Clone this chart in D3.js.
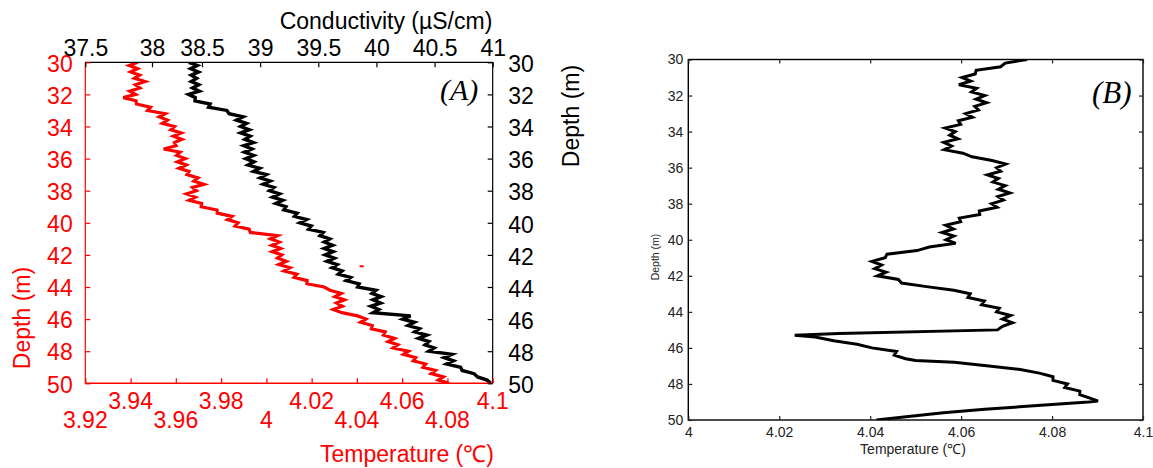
<!DOCTYPE html>
<html><head><meta charset="utf-8">
<script src="https://cdn.jsdelivr.net/npm/d3@7"></script>
<style>body{margin:0;background:#fff}svg{display:block}</style>
</head><body>
<svg id="c" width="1153" height="468"></svg>
<script>
// ---------- DATA ----------
const depthTicks = [30,32,34,36,38,40,42,44,46,48,50];
const condTicks = [37.5,38,38.5,39,39.5,40,40.5,41];
const condTickLabels = ["37.5","38","38.5","39","39.5","40","40.5","41"];
const tempTicksA = [3.92,3.94,3.96,3.98,4.0,4.02,4.04,4.06,4.08,4.1];
const tempLabelsUpper = [3.94,3.98,4.02,4.06,4.1];
const tempLabelsLower = [3.92,3.96,4.0,4.04,4.08];
const tempTicksB = [4.0,4.02,4.04,4.06,4.08,4.1];

const depthA = [30,30.2,30.4,30.6,30.8,31,31.2,31.4,31.6,31.8,
 32,32.2,32.4,32.6,32.8,33,33.2,33.4,33.6,33.8,
 34,34.2,34.4,34.6,34.8,35,35.2,35.4,35.6,35.8,
 36,36.2,36.4,36.6,36.8,37,37.2,37.4,37.6,37.8,
 38,38.2,38.4,38.6,38.8,39,39.2,39.4,39.6,39.8,
 40,40.2,40.4,40.6,40.8,41,41.2,41.4,41.6,41.8,
 42,42.2,42.4,42.6,42.8,43,43.2,43.4,43.6,43.8,
 44,44.2,44.4,44.6,44.8,45,45.2,45.4,45.6,45.8,
 46,46.2,46.4,46.6,46.8,47,47.2,47.4,47.6,47.8,
 48,48.2,48.4,48.6,48.8,49,49.2,49.4,49.6,49.8,
 50];
const tempA = [3.9432,3.9394,3.9431,3.9400,3.9440,3.9417,3.9464,3.9421,3.9441,3.9396,
 3.9422,3.9368,3.9424,3.9426,3.9488,3.9475,3.9553,3.9526,3.9563,3.9540,
 3.9594,3.9578,3.9624,3.9589,3.9627,3.9594,3.9601,3.9546,3.9619,3.9603,
 3.9642,3.9607,3.9646,3.9614,3.9658,3.9649,3.9698,3.9680,3.9724,3.9674,
 3.9691,3.9647,3.9686,3.9658,3.9714,3.9712,3.9782,3.9783,3.9848,3.9828,
 3.9875,3.9862,3.9924,3.9929,4.0049,4.0018,4.0057,4.0024,4.0063,4.0026,
 4.0068,4.0049,4.0088,4.0055,4.0104,4.0078,4.0135,4.0122,4.0180,4.0179,
 4.0255,4.0281,4.0331,4.0303,4.0345,4.0310,4.0336,4.0296,4.0334,4.0403,
 4.0440,4.0416,4.0468,4.0464,4.0525,4.0517,4.0566,4.0538,4.0581,4.0560,
 4.0628,4.0606,4.0660,4.0649,4.0704,4.0692,4.0747,4.0728,4.0782,4.0760,
 4.0807];
const condA = [38.368,38.453,38.387,38.465,38.392,38.447,38.392,38.468,38.406,38.474,
 38.366,38.433,38.430,38.570,38.556,38.714,38.733,38.853,38.797,38.883,
 38.832,38.907,38.833,38.914,38.868,38.942,38.859,38.928,38.865,38.944,
 38.877,38.948,38.896,38.996,38.943,39.053,38.999,39.087,39.026,39.118,
 39.080,39.166,39.107,39.195,39.135,39.222,39.204,39.319,39.295,39.399,
 39.342,39.440,39.416,39.542,39.515,39.599,39.551,39.623,39.551,39.628,
 39.560,39.638,39.575,39.662,39.618,39.705,39.672,39.778,39.739,39.852,
 39.838,39.996,39.961,40.040,39.971,40.036,39.952,40.020,39.971,40.294,
 40.226,40.327,40.272,40.370,40.329,40.433,40.362,40.451,40.418,40.496,
 40.451,40.648,40.582,40.662,40.604,40.724,40.737,40.840,40.870,40.952,
 40.985];
const strayDepthA = [42.71];
const strayTempA = [4.0421];

const depthB = [30,30.2,30.4,30.6,30.8,31,31.2,31.4,31.6,31.8,
 32,32.2,32.4,32.6,32.8,33,33.2,33.4,33.6,33.8,
 34,34.2,34.4,34.6,34.8,35,35.2,35.4,35.6,35.8,
 36,36.2,36.4,36.6,36.8,37,37.2,37.4,37.6,37.8,
 38,38.2,38.4,38.6,38.8,39,39.2,39.4,39.6,39.8,
 40,40.2,40.4,40.6,40.8,41,41.2,41.4,41.6,41.8,
 42,42.2,42.4,42.6,42.8,43,43.2,43.4,43.6,43.8,
 44,44.2,44.4,44.6,44.8,45,
 45.2,45.3,45.4,45.6,45.8,46,46.2,46.4,46.6,46.7,
 46.8,47,47.2,47.4,47.6,47.8,48,48.2,48.4,48.6,
 48.8,48.95,49,49.2,49.4,49.6,49.8,50];
const tempB = [4.0745,4.0697,4.0687,4.0633,4.0631,4.0602,4.0621,4.0595,4.0634,4.0623,
 4.0652,4.0633,4.0656,4.0630,4.0638,4.0610,4.0625,4.0594,4.0599,4.0565,
 4.0587,4.0575,4.0593,4.0562,4.0579,4.0563,4.0604,4.0624,4.0668,4.0698,
 4.0678,4.0687,4.0658,4.0682,4.0670,4.0697,4.0682,4.0707,4.0681,4.0693,
 4.0667,4.0679,4.0640,4.0641,4.0596,4.0599,4.0566,4.0583,4.0558,4.0584,
 4.0567,4.0588,4.0530,4.0503,4.0437,4.0433,4.0404,4.0425,4.0410,4.0435,
 4.0416,4.0462,4.0469,4.0524,4.0584,4.0620,4.0615,4.0651,4.0645,4.0684,
 4.0678,4.0709,4.0691,4.0713,4.0691,4.0680,
 4.0331,4.0234,4.0279,4.0320,4.0371,4.0404,4.0458,4.0453,4.0478,4.0500,
 4.0585,4.0661,4.0730,4.0772,4.0802,4.0802,4.0834,4.0828,4.0861,4.0861,
 4.0885,4.0901,4.0880,4.0768,4.0652,4.0561,4.0484,4.0414];

// ---------- DRAW ----------
const svg = d3.select("#c");
const sans = "'Liberation Sans', Arial, Helvetica, sans-serif";
const serif = "'Liberation Serif', 'Times New Roman', serif";
const RED = "#ff0000";

function styleAxis(g, color, size, fam) {
  g.select(".domain").remove();
  g.selectAll(".tick line").attr("stroke", color).attr("stroke-width", 1.2);
  g.selectAll(".tick text").attr("fill", color)
    .style("font-family", fam || sans).style("font-size", size + "px");
}

// ===== Panel A =====
const yA = d3.scaleLinear().domain([30, 50]).range([62.3, 383.3]);
const xTempA = d3.scaleLinear().domain([3.92, 4.1]).range([85.3, 492.7]);
const xCond = d3.scaleLinear().domain([37.5, 38, 38.5, 41]).range([85.3, 152, 202, 492.7]);

svg.append("clipPath").attr("id", "clipA").append("rect")
  .attr("x", xTempA.range()[0]).attr("y", yA.range()[0])
  .attr("width", xTempA.range()[1] - xTempA.range()[0] + 2)
  .attr("height", yA.range()[1] - yA.range()[0]);

const gA = svg.append("g");
const dA = gA.append("g").attr("clip-path", "url(#clipA)");
dA.append("path")
  .attr("d", d3.line().x((d, i) => xTempA(tempA[i])).y(d => yA(d))(depthA))
  .attr("fill", "none").attr("stroke", RED).attr("stroke-width", 3.2);
dA.append("path")
  .attr("d", d3.line().x((d, i) => xCond(condA[i])).y(d => yA(d))(depthA))
  .attr("fill", "none").attr("stroke", "#000").attr("stroke-width", 3.4);
dA.selectAll("rect.stray").data(strayDepthA).join("rect").attr("class", "stray")
  .attr("x", (d, i) => xTempA(strayTempA[i]) - 2).attr("y", d => yA(d) - 1)
  .attr("width", 4).attr("height", 2).attr("fill", RED);

// frame
const [ax0, ax1] = xTempA.range(), [ay0, ay1] = yA.range();
gA.append("line").attr("x1", ax0).attr("x2", ax1).attr("y1", ay0).attr("y2", ay0).attr("stroke", "#000").attr("stroke-width", 1.2);
gA.append("line").attr("x1", ax1).attr("x2", ax1).attr("y1", ay0).attr("y2", ay1).attr("stroke", "#000").attr("stroke-width", 1.2);
gA.append("line").attr("x1", ax0).attr("x2", ax0).attr("y1", ay0).attr("y2", ay1).attr("stroke", RED).attr("stroke-width", 1.2);
gA.append("line").attr("x1", ax0).attr("x2", ax1).attr("y1", ay1).attr("y2", ay1).attr("stroke", RED).attr("stroke-width", 1.4);

// left axis (red)
const gl = gA.append("g").attr("transform", `translate(${ax0},0)`)
  .call(d3.axisLeft(yA).tickValues(depthTicks).tickSize(-5).tickSizeOuter(0).tickPadding(12.6));
styleAxis(gl, RED, 23);
gl.selectAll(".tick text").attr("dy", "0.38em");

// right axis (black)
const gr = gA.append("g").attr("transform", `translate(${ax1},0)`)
  .call(d3.axisRight(yA).tickValues(depthTicks).tickSize(-5).tickSizeOuter(0).tickPadding(15.6));
styleAxis(gr, "#000", 23);
gr.selectAll(".tick text").attr("dy", "0.40em");

// top axis (black, conductivity)
const gt = gA.append("g").attr("transform", `translate(0,${ay0})`)
  .call(d3.axisTop(xCond).tickValues(condTicks).tickFormat((d, i) => condTickLabels[i])
    .tickSize(-5).tickSizeOuter(0).tickPadding(6));
styleAxis(gt, "#000", 23);

// bottom axis (red, temperature)
const gb = gA.append("g").attr("transform", `translate(0,${ay1})`)
  .call(d3.axisBottom(xTempA).tickValues(tempTicksA).tickFormat("").tickSize(-5).tickSizeOuter(0));
styleAxis(gb, RED, 23);
gA.selectAll("text.tu").data(tempLabelsUpper).join("text").attr("class", "tu")
  .attr("x", d => xTempA(d)).attr("y", 409).attr("text-anchor", "middle")
  .attr("fill", RED).style("font-family", sans).style("font-size", "23px").text(d => String(d));
gA.selectAll("text.tl").data(tempLabelsLower).join("text").attr("class", "tl")
  .attr("x", d => xTempA(d)).attr("y", 428.3).attr("text-anchor", "middle")
  .attr("fill", RED).style("font-family", sans).style("font-size", "23px").text(d => String(d));

// titles
gA.append("text").attr("x", 386).attr("y", 29).attr("text-anchor", "middle")
  .style("font-family", sans).style("font-size", "23px").attr("fill", "#000")
  .text("Conductivity (\u00B5S/cm)");
gA.append("text").attr("x", 407).attr("y", 461.5).attr("text-anchor", "middle")
  .style("font-family", sans).style("font-size", "23px").attr("fill", RED)
  .text("Temperature (\u2103)");
gA.append("text").attr("transform", "translate(30,318) rotate(-90)").attr("text-anchor", "middle")
  .style("font-family", sans).style("font-size", "23px").attr("fill", RED).text("Depth (m)");
gA.append("text").attr("transform", "translate(579,116) rotate(-90)").attr("text-anchor", "middle")
  .style("font-family", sans).style("font-size", "23px").attr("fill", "#000").text("Depth (m)");
gA.append("text").attr("x", 440).attr("y", 100)
  .style("font-family", serif).style("font-style", "italic").style("font-size", "30px")
  .attr("fill", "#000").text("(A)");

// ===== Panel B =====
const yB = d3.scaleLinear().domain([30, 50]).range([59.5, 420]);
const xB = d3.scaleLinear().domain([4.0, 4.1]).range([688.3, 1143]);
const [bx0, bx1] = xB.range(), [by0, by1] = yB.range();
const gB = svg.append("g");
svg.append("clipPath").attr("id", "clipB").append("rect")
  .attr("x", bx0).attr("y", by0).attr("width", bx1 - bx0).attr("height", by1 - by0);

gB.append("g").attr("clip-path", "url(#clipB)").append("path")
  .attr("d", d3.line().x((d, i) => xB(tempB[i])).y(d => yB(d))(depthB))
  .attr("fill", "none").attr("stroke", "#000").attr("stroke-width", 3);

gB.append("rect").attr("x", bx0).attr("y", by0).attr("width", bx1 - bx0).attr("height", by1 - by0)
  .attr("fill", "none").attr("stroke", "#000").attr("stroke-width", 1.4);

const TB = "#222";
const bl = gB.append("g").attr("transform", `translate(${bx0},0)`)
  .call(d3.axisLeft(yB).tickValues(depthTicks).tickSize(-4).tickSizeOuter(0).tickPadding(5));
styleAxis(bl, TB, 14);
const br = gB.append("g").attr("transform", `translate(${bx1},0)`)
  .call(d3.axisRight(yB).tickValues(depthTicks).tickSize(-4).tickSizeOuter(0).tickFormat(""));
styleAxis(br, TB, 14);
const bt = gB.append("g").attr("transform", `translate(0,${by0})`)
  .call(d3.axisTop(xB).tickValues(tempTicksB).tickSize(-4).tickSizeOuter(0).tickFormat(""));
styleAxis(bt, TB, 14);
const bb = gB.append("g").attr("transform", `translate(0,${by1})`)
  .call(d3.axisBottom(xB).tickValues(tempTicksB).tickSize(-4).tickSizeOuter(0).tickPadding(7.5)
    .tickFormat(d => String(d)));
styleAxis(bb, TB, 14);

gB.append("text").attr("x", 913).attr("y", 454).attr("text-anchor", "middle")
  .style("font-family", sans).style("font-size", "14px").attr("fill", TB).text("Temperature (\u2103)");
gB.append("text").attr("transform", "translate(659,257) rotate(-90)").attr("text-anchor", "middle")
  .style("font-family", sans).style("font-size", "10.5px").attr("fill", TB).text("Depth (m)");
gB.append("text").attr("x", 1092).attr("y", 103)
  .style("font-family", serif).style("font-style", "italic").style("font-size", "31px")
  .attr("fill", "#000").text("(B)");
</script>
</body></html>
